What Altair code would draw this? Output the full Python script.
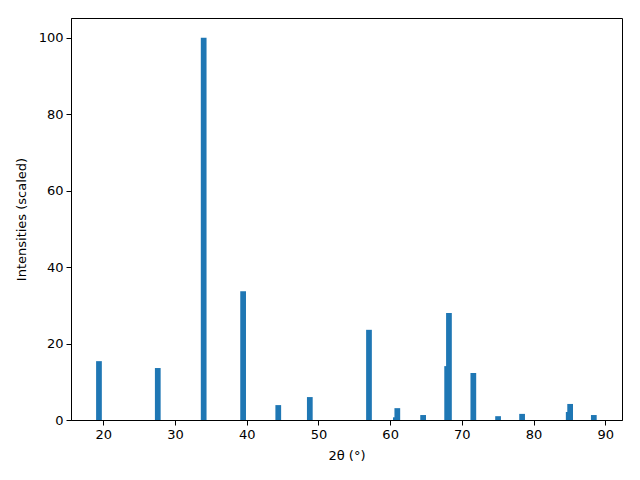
import altair as alt
import pandas as pd

two_theta = [19.4, 27.6, 34.0, 39.5, 44.4, 48.8, 57.05, 60.8, 61.0, 64.6,
             67.95, 68.2, 71.6, 75.05, 78.4, 84.9, 85.1, 88.4]
intensity = [15.4, 13.6, 100.0, 33.7, 3.9, 6.0, 23.6, 0.7, 3.1, 1.3,
             14.1, 28.0, 12.3, 1.0, 1.6, 2.1, 4.2, 1.3]
x_ticks = [20, 30, 40, 50, 60, 70, 80, 90]
y_ticks = [0, 20, 40, 60, 80, 100]
bar_width = 0.8

df = pd.DataFrame({"tt": two_theta, "I": intensity})

font = "DejaVu Sans"

chart = (
    alt.Chart(df)
    .transform_calculate(x1=f"datum.tt - {bar_width / 2}", x2=f"datum.tt + {bar_width / 2}", base="0")
    .mark_bar(color="#1f77b4", stroke=None)
    .encode(
        x=alt.X("x1:Q",
                scale=alt.Scale(domain=[15.5, 92.33], nice=False, zero=False),
                axis=alt.Axis(title="2θ (°)", values=x_ticks, format="d")),
        x2="x2:Q",
        y=alt.Y("I:Q",
                scale=alt.Scale(domain=[0, 105.2], nice=False, padding=0),
                axis=alt.Axis(title="Intensities (scaled)", values=y_ticks, format="d")),
        y2="base:Q",
    )
    .properties(
        width=551,
        height=402,
        autosize=alt.AutoSizeParams(type="none"),
        padding={"left": 63, "top": 10, "right": 10, "bottom": 52},
    )
    .configure_view(stroke="black", strokeWidth=1)
    .configure_axis(
        grid=False,
        domainColor="black",
        domainWidth=1,
        tickColor="black",
        tickSize=5,
        tickWidth=1,
        labelPadding=3,
        labelFont=font,
        labelFontSize=13,
        labelColor="black",
        titleFont=font,
        titleFontSize=13,
        titleFontWeight="normal",
        titleColor="black",
    )
    .configure_axisX(titlePadding=8)
    .configure_axisY(titlePadding=10)
)

chart.save("out.html", embed_options={"renderer": "svg", "actions": False})
